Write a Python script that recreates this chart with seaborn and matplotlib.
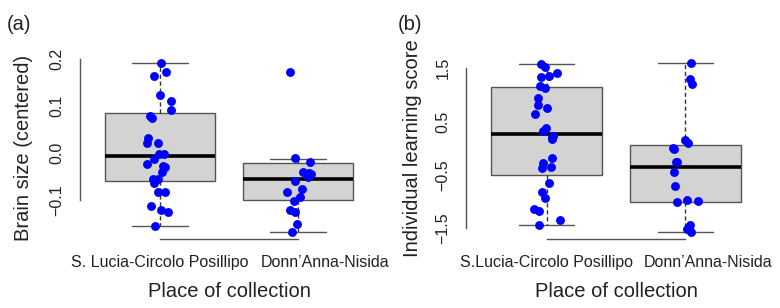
import numpy as np
import pandas as pd
import matplotlib
matplotlib.use("Agg")
import matplotlib.pyplot as plt
import matplotlib.transforms as mtransforms
import seaborn as sns

# Categorias (locais de recolha)
locais_a = ["S. Lucia-Circolo Posillipo", "Donn\u2019Anna-Nisida"]
locais_b = ["S.Lucia-Circolo Posillipo", "Donn\u2019Anna-Nisida"]

# (a) Pontos individuais - tamanho do cérebro (centrado)
cerebro_slcp = [0.1915, 0.1717, 0.1638, 0.1228, 0.110, 0.0909, 0.0774, 0.0731,
                0.0306, 0.0213, 0.0213, -0.0021, -0.0021, -0.0134, -0.0304, -0.029,
                -0.0247, -0.041, -0.0553, -0.056, -0.0638, -0.0836, -0.0836, -0.1134,
                -0.122, -0.126, -0.157]
cerebro_dan = [0.171, -0.0119, -0.0204, -0.046, -0.041, -0.0432, -0.051, -0.0609,
               -0.0836, -0.0772, -0.0936, -0.1021, -0.122, -0.1255, -0.1523, -0.1694]

# (a) Resumo das caixas (min, Q1, mediana, Q3, max)
caixa_cerebro_slcp = [-0.157, -0.0602, -0.0077, 0.0838, 0.1915]
caixa_cerebro_dan = [-0.1695, -0.1013, -0.0566, -0.0213, -0.0134]

# (b) Pontos individuais - pontuação de aprendizagem
aprend_slcp = [1.581, 1.530, 1.406, 1.356, 1.343, 1.168, 1.131, 0.943, 0.818, 0.762,
               0.637, 0.386, 0.324, 0.206, 0.231, 0.169, -0.188, -0.281, -0.356, -0.369,
               -0.656, -0.813, -0.938, -1.144, -1.170, -1.344, -1.432]
aprend_dan = [1.605, 1.299, 1.211, 0.156, 0.094, 0.011, -0.013, -0.251, -0.263, -0.45,
              -0.707, -0.964, -1.007, -0.982, -1.432, -1.519, -1.569]

# (b) Resumo das caixas (min, Q1, mediana, Q3, max)
caixa_aprend_slcp = [-1.438, -0.5, 0.268, 1.144, 1.581]
caixa_aprend_dan = [-1.575, -1.013, -0.356, 0.069, 1.605]

# Ticks do eixo y
ticks_a = [-0.1, 0.0, 0.1, 0.2]
rotulos_a = ["\u22120.1", "0.0", "0.1", "0.2"]
ticks_b = [-1.5, -1.0, -0.5, 0.0, 0.5, 1.0, 1.5]
rotulos_b = ["\u22121.5", "", "\u22120.5", "", "0.5", "", "1.5"]

sns.set_style("white")
plt.rcParams['font.family'] = ['Liberation Sans', 'DejaVu Sans']

CINZA = "#555555"
np.random.seed(3)


def painel(ax, locais, pontos, caixas, ticks, rotulos, ylim, ylabel, ylab_x, desvio):
    df_pts = pd.DataFrame({
        "local": [locais[0]] * len(pontos[0]) + [locais[1]] * len(pontos[1]),
        "valor": pontos[0] + pontos[1]})
    df_box = pd.DataFrame({
        "local": [locais[0]] * len(caixas[0]) + [locais[1]] * len(caixas[1]),
        "valor": caixas[0] + caixas[1]})

    sns.boxplot(data=df_box, x="local", y="valor", order=locais, ax=ax,
                color="#D3D3D3", saturation=1, width=0.8, linecolor=CINZA,
                linewidth=1, showfliers=False,
                medianprops={"color": "black", "linewidth": 2.6},
                whiskerprops={"linestyle": (0, (3, 2)), "color": "#333333"},
                capprops={"color": CINZA})
    sns.stripplot(data=df_pts, x="local", y="valor", order=locais, ax=ax,
                  color="#0000FF", jitter=0.1, size=6.4, linewidth=0, zorder=5)

    ax.set_xlim(-0.58, 1.58)
    ax.set_ylim(*ylim)
    ax.set_yticks(ticks)
    ax.set_yticklabels(rotulos, rotation=90, va="center", fontsize=11.5)
    ax.set_xticks([0, 1])
    ax.set_xticklabels(locais, fontsize=11.5)
    ax.tick_params(axis="both", direction="out", length=6, width=1, color=CINZA,
                   labelcolor="#222222")
    ax.tick_params(axis="x", pad=5)
    ax.tick_params(axis="y", pad=5)

    # O segundo rótulo do eixo x está deslocado para a direita no original
    rot2 = ax.get_xticklabels()[1]
    rot2.set_transform(rot2.get_transform() +
                       mtransforms.ScaledTranslation(desvio / 100, 0, ax.figure.dpi_scale_trans))

    # Eixos ao estilo R: linhas só entre os ticks
    for lado in ["top", "right"]:
        ax.spines[lado].set_visible(False)
    ax.spines["left"].set_bounds(ticks[0], ticks[-1])
    ax.spines["bottom"].set_bounds(0, 1)
    for lado in ["left", "bottom"]:
        ax.spines[lado].set_color(CINZA)
        ax.spines[lado].set_linewidth(1)

    ax.set_xlabel("Place of collection", fontsize=14.5, labelpad=9, color="#222222")
    ax.set_ylabel(ylabel, fontsize=14.5, color="#222222")
    ax.yaxis.set_label_coords(ylab_x, 0.5)


fig = plt.figure(figsize=(7.8, 3.08), dpi=100)
ax1 = fig.add_axes([80 / 780, 1 - 239.4 / 308, 298 / 780, 183.5 / 308])
ax2 = fig.add_axes([466 / 780, 1 - 239.4 / 308, 300 / 780, 183.5 / 308])

painel(ax1, locais_a, [cerebro_slcp, cerebro_dan], [caixa_cerebro_slcp, caixa_cerebro_dan],
       ticks_a, rotulos_a, (-0.1845, 0.206), "Brain size (centered)", -0.157, 27)
painel(ax2, locais_b, [aprend_slcp, aprend_dan], [caixa_aprend_slcp, caixa_aprend_dan],
       ticks_b, rotulos_b, (-1.71, 1.7325), "Individual learning score", -0.147, 23)

fig.text(7 / 780, 1 - 25 / 308, "(a)", fontsize=14.5, va="center", ha="left", color="#222222")
fig.text(398 / 780, 1 - 25 / 308, "(b)", fontsize=14.5, va="center", ha="left", color="#222222")

plt.savefig("out.png", dpi=100)
plt.close()
